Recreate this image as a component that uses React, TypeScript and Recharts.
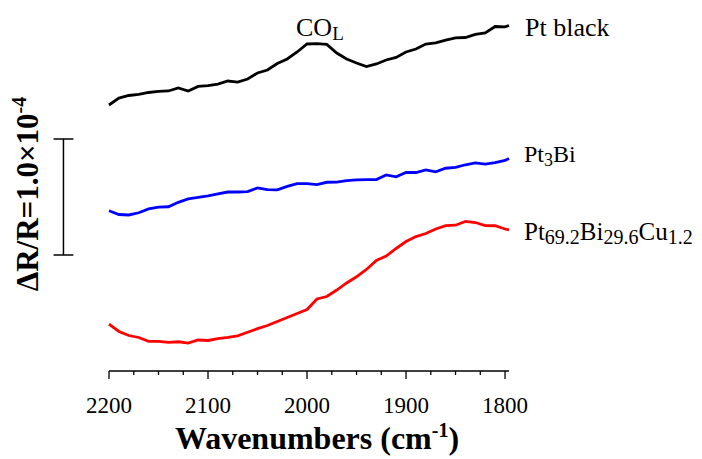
import { LineChart, Line, XAxis, YAxis, ReferenceLine, Customized } from 'recharts';

// wavenumbers, cm-1 (axis runs 2200 -> 1800)
const WN = [
  2200, 2190, 2180, 2170, 2160, 2150, 2140, 2130, 2120, 2110, 2100, 2090, 2080, 2070,
  2060, 2050, 2040, 2030, 2020, 2010, 2000, 1990, 1980, 1970, 1960, 1950, 1940, 1930,
  1920, 1910, 1900, 1890, 1880, 1870, 1860, 1850, 1840, 1830, 1820, 1810, 1800, 1796,
];

// dR/R x 1e-6, spectra stacked with offsets
const PT_BLACK = [
  229.3, 235.3, 237.5, 238.4, 240.1, 241.0, 241.4, 244.0, 241.4, 245.3, 246.1, 247.4, 250.0, 249.1,
  251.7, 256.9, 259.5, 265.1, 269.0, 275.0, 281.9, 282.3, 281.5, 274.1, 269.0, 265.5, 262.5, 264.7,
  268.1, 270.3, 275.0, 277.6, 281.9, 282.8, 285.3, 287.1, 287.5, 290.1, 291.4, 297.0, 296.6, 297.8,
];
const PT3BI = [
  138.2, 134.9, 134.5, 136.4, 139.7, 141.2, 141.6, 145.4, 148.3, 149.6, 150.9, 152.6, 154.3, 154.3,
  154.7, 157.8, 156.3, 156.2, 159.1, 161.6, 161.6, 160.7, 162.7, 162.9, 164.1, 164.8, 164.9, 165.1,
  169.0, 167.4, 171.1, 171.1, 173.3, 171.7, 174.8, 175.5, 177.8, 179.4, 178.3, 179.7, 181.5, 183.2,
];
const PT_BI_CU = [
  40.5, 34.1, 30.6, 28.9, 25.6, 25.6, 24.6, 25.2, 24.1, 26.7, 26.3, 28.0, 28.9, 30.3,
  33.4, 36.5, 39.2, 42.7, 46.1, 49.6, 53.0, 62.1, 64.2, 69.8, 75.9, 81.2, 87.5, 95.3,
  99.1, 105.6, 111.6, 115.9, 118.5, 122.4, 125.3, 125.7, 129.0, 128.0, 125.3, 125.2, 122.4, 121.6,
];

const MAJOR_TICKS = [2200, 2100, 2000, 1900, 1800];
const ALL_TICKS = [2200, 2175, 2150, 2125, 2100, 2075, 2050, 2025, 2000, 1975, 1950, 1925, 1900, 1875, 1850, 1825, 1800];

// scale bar: 1.0e-4 = 100 units
const BAR_X = 2246;
const BAR_LO = 100;
const BAR_HI = 200;

const FONT = '"Liberation Serif", "Times New Roman", serif';

const data = WN.map((wn, i) => ({ wn, black: PT_BLACK[i], blue: PT3BI[i], red: PT_BI_CU[i] }));

const Tick = ({ x, y, payload }: any) => {
  const major = MAJOR_TICKS.includes(payload.value);
  return (
    <g>
      <line x1={x} x2={x} y1={y} y2={y + (major ? 8 : 4)} stroke="#000" strokeWidth={1.3} />
      {major && (
        <text x={x} y={y + 42} textAnchor="middle" fontFamily={FONT} fontSize={23} fill="#000">
          {payload.value}
        </text>
      )}
    </g>
  );
};

const Annotations = () => (
  <g fontFamily={FONT} fill="#000">
    <text x={296} y={36} fontSize={26}>
      CO<tspan fontSize={19} dy={4}>L</tspan>
    </text>
    <text x={525} y={36} fontSize={26}>Pt black</text>
    <text x={524} y={162} fontSize={24}>
      Pt<tspan fontSize={18} dy={4}>3</tspan><tspan dy={-4}>Bi</tspan>
    </text>
    <text x={524} y={240} fontSize={25}>
      Pt<tspan fontSize={20} dy={4}>69.2</tspan><tspan dy={-4}>Bi</tspan>
      <tspan fontSize={20} dy={4}>29.6</tspan><tspan dy={-4}>Cu</tspan>
      <tspan fontSize={20} dy={4}>1.2</tspan>
    </text>
    <text x={317} y={449} fontSize={32} fontWeight="bold" textAnchor="middle">
      Wavenumbers (cm<tspan fontSize={20} dy={-12}>-1</tspan><tspan dy={12}>)</tspan>
    </text>
    <text x={38} y={194} fontSize={31} fontWeight="bold" textAnchor="middle" transform="rotate(-90, 38, 194)">
      ΔR/R=1.0×10<tspan fontSize={20} dy={-12}>-4</tspan>
    </text>
  </g>
);

export default function App() {
  return (
    <div style={{ position: 'absolute', left: 0, top: 0, width: 702, height: 459, background: '#fff' }}>
      <LineChart width={702} height={459} data={data} margin={{ top: 23, right: 193, bottom: 0, left: 109 }}>
        <XAxis
          dataKey="wn"
          type="number"
          domain={[1796, 2200]}
          reversed
          ticks={ALL_TICKS}
          interval={0}
          tickSize={0}
          tickMargin={0}
          tickLine={false}
          tick={<Tick />}
          height={88}
          axisLine={{ stroke: '#000', strokeWidth: 1.3 }}
        />
        <YAxis hide type="number" domain={[0, 300]} />
        <Line dataKey="black" stroke="#000000" strokeWidth={2.8} dot={false} isAnimationActive={false} />
        <Line dataKey="blue" stroke="#0000ff" strokeWidth={2.8} dot={false} isAnimationActive={false} />
        <Line dataKey="red" stroke="#ff0000" strokeWidth={2.8} dot={false} isAnimationActive={false} />
        <ReferenceLine segment={[{ x: BAR_X, y: BAR_LO }, { x: BAR_X, y: BAR_HI }]} stroke="#000" strokeWidth={1.5} ifOverflow="visible" />
        <ReferenceLine segment={[{ x: BAR_X + 10, y: BAR_HI }, { x: BAR_X - 10, y: BAR_HI }]} stroke="#000" strokeWidth={1.5} ifOverflow="visible" />
        <ReferenceLine segment={[{ x: BAR_X + 10, y: BAR_LO }, { x: BAR_X - 10, y: BAR_LO }]} stroke="#000" strokeWidth={1.5} ifOverflow="visible" />
        <Customized component={<Annotations />} />
      </LineChart>
    </div>
  );
}
